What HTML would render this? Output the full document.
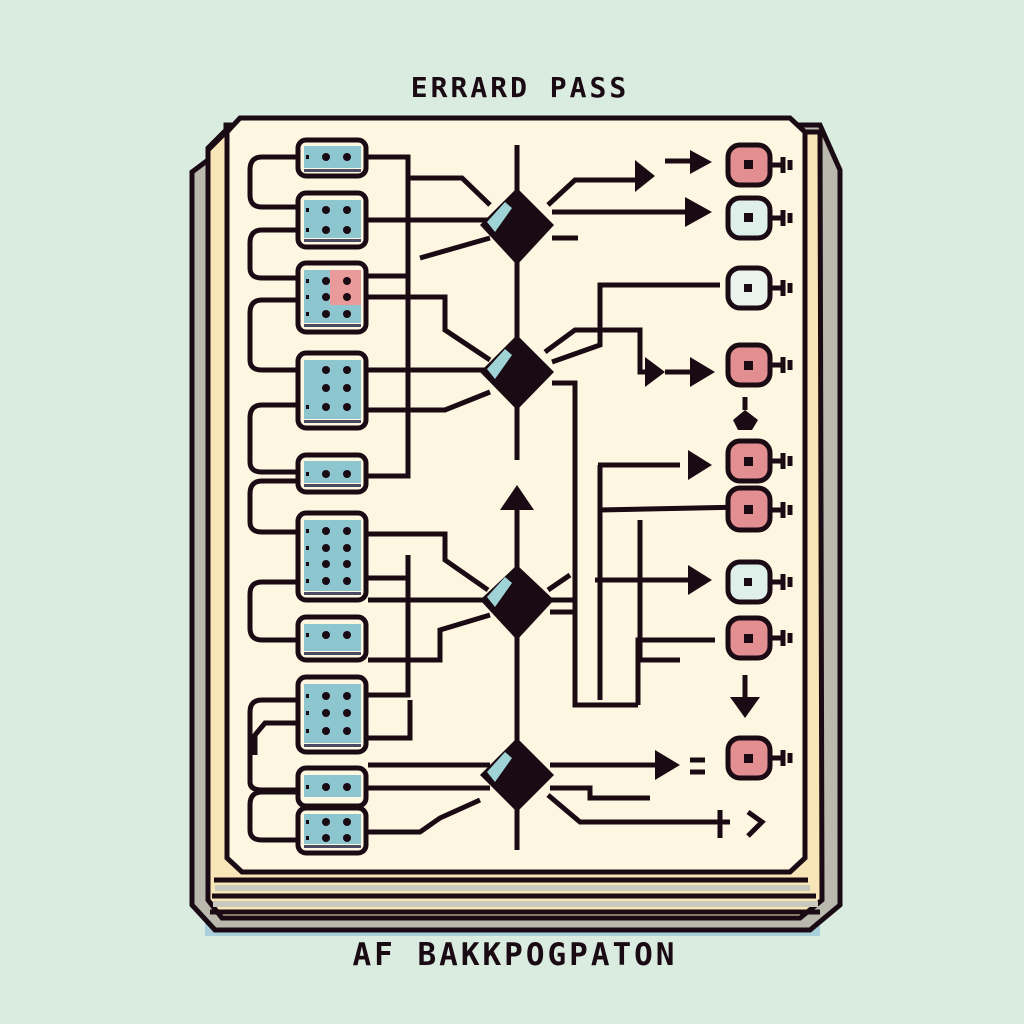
<!DOCTYPE html>
<html><head><meta charset="utf-8"><style>
html,body{margin:0;padding:0;background:#d9ecdf;}
svg{display:block}
text{font-family:"DejaVu Sans Mono","Liberation Mono",monospace;font-weight:bold;fill:#1a0a14}
</style></head><body>
<svg width="1024" height="1024" viewBox="0 0 1024 1024" xmlns="http://www.w3.org/2000/svg">
<rect width="1024" height="1024" fill="#d9ecdf"/>
<text x="520" y="97" font-size="28" text-anchor="middle" letter-spacing="3">ERRARD PASS</text>
<text x="515" y="965" font-size="31" text-anchor="middle" letter-spacing="3">AF BAKKPOGPATON</text>
<!-- shadow -->
<rect x="205" y="918" width="615" height="18" fill="#a9d0da"/>
<!-- stacked layers -->
<path d="M192 172 L208 160 L208 148 L226 130 L226 125 L820 125 L840 170 L840 905 L810 930 L215 930 L192 905 Z" fill="#b9b9ad" stroke="#1a0a14" stroke-width="5"/>
<path d="M208 150 L226 132 L820 132 L822 900 L800 918 L222 918 L208 900 Z" fill="#f8e6b8" stroke="#1a0a14" stroke-width="5"/>
<path d="M214 880 L808 880 M212 896 L816 896 M210 912 L820 912" stroke="#1a0a14" stroke-width="5" fill="none"/>
<path d="M215 888 L810 888 M213 904 L818 904" stroke="#c8c8bc" stroke-width="6" fill="none"/>
<!-- main panel -->
<path d="M240 118 L790 118 L805 132 L805 858 L790 872 L242 872 L227 858 L227 132 Z" fill="#fdf6e1" stroke="#1a0a14" stroke-width="5"/>
<g stroke="#1a0a14" stroke-width="5" fill="none" stroke-linejoin="miter">
<!-- left loops -->
<path d="M297 157 L262 157 Q250 157 250 170 L250 195 Q250 207 262 207 L297 207"/>
<path d="M297 230 L262 230 Q250 230 250 243 L250 268 Q250 278 262 278 L297 278"/>
<path d="M297 300 L262 300 Q250 300 250 313 L250 360 Q250 370 262 370 L297 370"/>
<path d="M297 405 L262 405 Q250 405 250 418 L250 462 Q250 472 262 472 L297 472"/>
<path d="M297 481 L262 481 Q250 481 250 494 L250 522 Q250 532 262 532 L297 532"/>
<path d="M297 582 L262 582 Q250 582 250 594 L250 628 Q250 640 262 640 L297 640"/>
<path d="M297 700 L262 700 Q250 700 250 712 L250 782 Q250 790 262 790 L297 790"/>
<path d="M297 723 L265 723 L255 735 L255 755"/>
<path d="M297 792 L262 792 Q250 792 250 805 L250 830 Q250 840 262 840 L297 840"/>
<!-- right connectors top -->
<path d="M368 157 L408 157 L408 476 L368 476"/>
<path d="M408 178 L462 178 L490 205"/>
<path d="M368 220 L490 220"/>
<path d="M420 258 L490 238"/>
<path d="M368 276 L408 276"/>
<path d="M368 297 L445 297 L445 330 L490 360"/>
<path d="M368 370 L490 370"/>
<path d="M368 410 L445 410 L490 392"/>
<!-- center line -->
<path d="M517 145 L517 460"/>
<path d="M517 510 L517 850"/>
<!-- diamond1 right -->
<path d="M548 205 L575 180 L640 180"/>
<path d="M552 212 L690 212"/>
<path d="M552 238 L578 238"/>
<!-- diamond2 right -->
<path d="M545 352 L575 330 L640 330 L640 372 L662 372"/>
<path d="M552 362 L600 345 L600 285 L720 285"/>
<path d="M552 383 L575 383 L575 705 L638 705"/>
<path d="M665 372 L690 372"/>
<!-- lower mid -->
<path d="M665 161 L690 161"/>
<path d="M368 534 L445 534 L445 560 L488 590"/>
<path d="M368 578 L408 578"/>
<path d="M408 555 L408 695 L368 695"/>
<path d="M368 600 L490 600"/>
<path d="M368 660 L440 660 L440 630 L490 615"/>
<path d="M368 738 L410 738 L410 700"/>
<path d="M548 590 L570 575"/>
<path d="M550 600 L575 600 M550 612 L575 612"/>
<path d="M600 700 L600 510 L745 507"/>
<path d="M595 580 L690 580"/>
<path d="M638 705 L638 640 L715 640"/>
<path d="M598 465 L680 465 M600 465 L600 510"/>
<path d="M640 520 L640 660 L680 660"/>
<!-- bottom diamond -->
<path d="M368 765 L490 765"/>
<path d="M368 788 L490 788"/>
<path d="M368 832 L420 832 L440 818 L480 800"/>
<path d="M550 765 L660 765"/>
<path d="M550 788 L590 788 L590 798 L650 798"/>
<path d="M548 795 L580 822 L730 822"/>
<path d="M720 810 L720 838"/>
<path d="M748 812 L762 822 L748 836"/>
<path d="M690 760 L705 760 M690 772 L705 772"/>
<!-- down arrow line -->
<path d="M745 675 L745 698"/>
<path d="M745 397 L745 410"/>
</g>
<!-- arrowheads -->
<g fill="#1a0a14">
<polygon points="635,160 655,176 635,192"/>
<polygon points="690,150 712,162 690,174"/>
<polygon points="685,197 712,212 685,227"/>
<polygon points="645,357 665,372 645,387"/>
<polygon points="690,357 715,372 690,387"/>
<polygon points="688,450 712,465 688,480"/>
<polygon points="688,565 712,580 688,595"/>
<polygon points="655,750 680,765 655,780"/>
<polygon points="730,697 745,718 760,697"/>
<polygon points="500,510 517,485 534,510"/>
<polygon points="733,420 745,410 758,420 752,430 738,430"/>
<!-- diamonds -->
<polygon points="517,188 554,225 517,265 480,225"/>
<polygon points="517,335 554,372 517,410 480,372"/>
<polygon points="517,565 554,600 517,640 480,600"/>
<polygon points="517,738 554,775 517,812 480,775"/>
</g>
<g fill="#9fd3d6">
<polygon points="487,222 505,202 512,208 495,232"/>
<polygon points="487,369 505,349 512,355 495,379"/>
<polygon points="487,597 505,577 512,583 495,607"/>
<polygon points="487,772 505,752 512,758 495,782"/>
</g>
<!-- left boxes -->
<g stroke="#1a0a14" stroke-width="5">
<rect x="298" y="140" width="68" height="36" rx="8" fill="#fdf6e1"/>
<rect x="298" y="193" width="68" height="54" rx="8" fill="#fdf6e1"/>
<rect x="298" y="263" width="68" height="69" rx="8" fill="#fdf6e1"/>
<rect x="298" y="353" width="68" height="75" rx="8" fill="#fdf6e1"/>
<rect x="298" y="455" width="68" height="37" rx="8" fill="#fdf6e1"/>
<rect x="298" y="513" width="68" height="87" rx="8" fill="#fdf6e1"/>
<rect x="298" y="617" width="68" height="43" rx="8" fill="#fdf6e1"/>
<rect x="298" y="677" width="68" height="75" rx="8" fill="#fdf6e1"/>
<rect x="298" y="768" width="68" height="38" rx="8" fill="#fdf6e1"/>
<rect x="298" y="808" width="68" height="45" rx="8" fill="#fdf6e1"/>
</g>
<g fill="#8ec6d0">
<rect x="304" y="146" width="57" height="22"/>
<rect x="304" y="200" width="57" height="38"/>
<rect x="304" y="270" width="57" height="53"/>
<rect x="304" y="360" width="57" height="59"/>
<rect x="304" y="461" width="57" height="22"/>
<rect x="304" y="520" width="57" height="71"/>
<rect x="304" y="624" width="57" height="27"/>
<rect x="304" y="684" width="57" height="59"/>
<rect x="304" y="775" width="57" height="22"/>
<rect x="304" y="814" width="57" height="30"/>
</g>
<rect x="330" y="270" width="31" height="35" fill="#e99a9a"/>
<g fill="#4a4a60">
<rect x="304" y="169" width="57" height="3"/><rect x="304" y="239" width="57" height="3"/><rect x="304" y="324" width="57" height="3"/><rect x="304" y="420" width="57" height="3"/><rect x="304" y="484" width="57" height="3"/><rect x="304" y="592" width="57" height="3"/><rect x="304" y="652" width="57" height="3"/><rect x="304" y="744" width="57" height="3"/><rect x="304" y="845" width="57" height="3"/>
</g>
<g fill="#1a0a14">
<circle cx="326" cy="157" r="4"/><circle cx="347" cy="157" r="4"/>
<circle cx="326" cy="210" r="4"/><circle cx="347" cy="210" r="4"/><circle cx="326" cy="230" r="4"/><circle cx="347" cy="230" r="4"/>
<circle cx="326" cy="281" r="4"/><circle cx="347" cy="281" r="4"/><circle cx="326" cy="297" r="4"/><circle cx="347" cy="297" r="4"/><circle cx="326" cy="314" r="4"/><circle cx="347" cy="314" r="4"/>
<circle cx="326" cy="370" r="4"/><circle cx="347" cy="370" r="4"/><circle cx="326" cy="388" r="4"/><circle cx="347" cy="388" r="4"/><circle cx="326" cy="407" r="4"/><circle cx="347" cy="407" r="4"/>
<circle cx="326" cy="474" r="4"/><circle cx="347" cy="474" r="4"/>
<circle cx="326" cy="531" r="4"/><circle cx="347" cy="531" r="4"/><circle cx="326" cy="548" r="4"/><circle cx="347" cy="548" r="4"/><circle cx="326" cy="564" r="4"/><circle cx="347" cy="564" r="4"/><circle cx="326" cy="581" r="4"/><circle cx="347" cy="581" r="4"/>
<circle cx="326" cy="635" r="4"/><circle cx="347" cy="635" r="4"/>
<circle cx="326" cy="696" r="4"/><circle cx="347" cy="696" r="4"/><circle cx="326" cy="713" r="4"/><circle cx="347" cy="713" r="4"/><circle cx="326" cy="731" r="4"/><circle cx="347" cy="731" r="4"/>
<circle cx="326" cy="787" r="4"/><circle cx="347" cy="787" r="4"/>
<circle cx="326" cy="822" r="4"/><circle cx="347" cy="822" r="4"/><circle cx="326" cy="838" r="4"/><circle cx="347" cy="838" r="4"/>
<rect x="306" y="155" width="3" height="4"/><rect x="306" y="208" width="3" height="4"/><rect x="306" y="228" width="3" height="4"/><rect x="306" y="279" width="3" height="4"/><rect x="306" y="295" width="3" height="4"/><rect x="306" y="312" width="3" height="4"/><rect x="306" y="405" width="3" height="4"/><rect x="306" y="472" width="3" height="4"/><rect x="306" y="529" width="3" height="4"/><rect x="306" y="546" width="3" height="4"/><rect x="306" y="562" width="3" height="4"/><rect x="306" y="579" width="3" height="4"/><rect x="306" y="633" width="3" height="4"/><rect x="306" y="694" width="3" height="4"/><rect x="306" y="711" width="3" height="4"/><rect x="306" y="729" width="3" height="4"/><rect x="306" y="785" width="3" height="4"/><rect x="306" y="820" width="3" height="4"/><rect x="306" y="836" width="3" height="4"/>
</g>
<!-- right nodes -->
<g stroke="#1a0a14" stroke-width="5">
<g fill="none"><path d="M770 165 L783 165 M783 157 L783 173 M790 160 L790 170"/><path d="M770 218 L783 218 M783 210 L783 226 M790 213 L790 223"/><path d="M770 288 L783 288 M783 280 L783 296 M790 283 L790 293"/><path d="M770 365 L783 365 M783 357 L783 373 M790 360 L790 370"/><path d="M770 461 L783 461 M783 453 L783 469 M790 456 L790 466"/><path d="M770 510 L783 510 M783 502 L783 518 M790 505 L790 515"/><path d="M770 582 L783 582 M783 574 L783 590 M790 577 L790 587"/><path d="M770 638 L783 638 M783 630 L783 646 M790 633 L790 643"/><path d="M770 758 L783 758 M783 750 L783 766 M790 753 L790 763"/></g>
<rect x="728" y="145" width="42" height="40" rx="12" fill="#e38f92"/>
<rect x="728" y="198" width="42" height="40" rx="12" fill="#dff0ea"/>
<rect x="728" y="268" width="42" height="40" rx="12" fill="#eaf3ec"/>
<rect x="728" y="345" width="42" height="40" rx="12" fill="#e38f92"/>
<rect x="728" y="441" width="42" height="40" rx="12" fill="#e38f92"/>
<rect x="728" y="488" width="42" height="42" rx="12" fill="#e38f92"/>
<rect x="728" y="562" width="42" height="40" rx="12" fill="#dff0ea"/>
<rect x="728" y="618" width="42" height="40" rx="12" fill="#e38f92"/>
<rect x="728" y="738" width="42" height="40" rx="12" fill="#e38f92"/>
</g>
<g fill="#1a0a14">
<rect x="744" y="160" width="9" height="9"/><rect x="744" y="213" width="9" height="9"/><rect x="744" y="284" width="8" height="8"/><rect x="744" y="361" width="9" height="9"/><rect x="744" y="457" width="9" height="9"/><rect x="744" y="505" width="9" height="9"/><rect x="744" y="578" width="8" height="8"/><rect x="744" y="634" width="9" height="9"/><rect x="744" y="754" width="9" height="9"/>
</g>
</svg>
</body></html>
